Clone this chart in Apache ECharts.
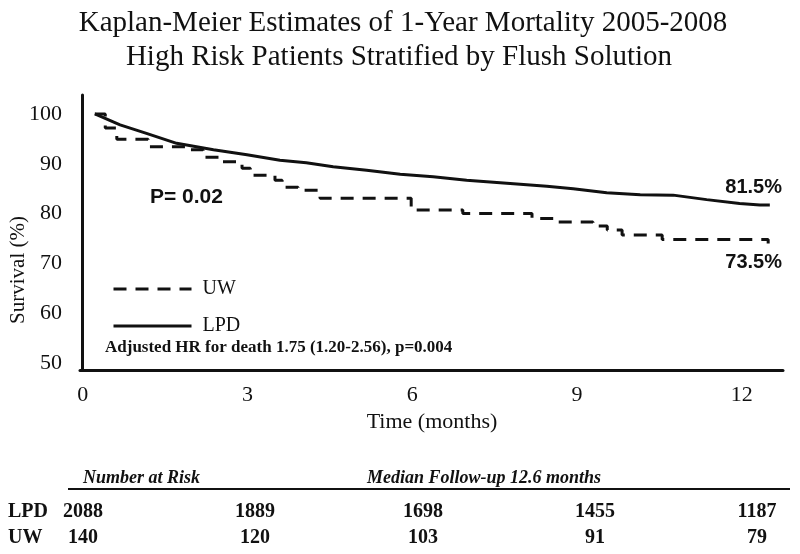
<!DOCTYPE html>
<html>
<head>
<meta charset="utf-8">
<script src="https://cdn.jsdelivr.net/npm/echarts@6/dist/echarts.min.js"></script>
<style>html,body{margin:0;padding:0;background:#fff}#c{width:800px;height:554px}</style>
</head>
<body>
<div id="c"></div>
<script>
// ---- data ----
var xTicks = [0, 3, 6, 9, 12];
var yTicks = [50, 60, 70, 80, 90, 100];
var lpdTime = [0.22, 0.68, 1.16, 1.71, 2.38, 2.99, 3.59, 4.07, 4.56, 5.17, 5.78, 6.38, 6.99, 7.60, 8.45, 8.93, 9.54, 10.15, 10.75, 11.36, 11.96, 12.33, 12.51];
var lpdSurv = [100, 97.8, 96.1, 94.1, 92.8, 91.8, 90.7, 90.2, 89.4, 88.7, 87.9, 87.4, 86.7, 86.2, 85.5, 85.0, 84.2, 83.8, 83.7, 82.8, 82.0, 81.7, 81.7];
var uwTime = [0.22, 0.41, 0.62, 1.19, 1.95, 2.19, 2.50, 2.90, 3.05, 3.50, 3.63, 3.92, 4.32, 5.98, 6.92, 8.18, 8.65, 9.29, 9.55, 9.82, 10.55, 12.48];
var uwSurv = [100, 97.2, 94.9, 93.4, 92.8, 91.3, 90.4, 89.1, 87.7, 86.7, 85.3, 84.7, 83.1, 80.7, 80.0, 79.0, 78.3, 77.5, 76.7, 75.7, 74.8, 74.0];
var riskRows = ['LPD', 'UW'];
var lpdRisk = [2088, 1889, 1698, 1455, 1187];
var uwRisk = [140, 120, 103, 91, 79];

function pairs(xs, ys) { return xs.map(function (x, i) { return [x, ys[i]]; }); }

var serif = '"Liberation Serif", "Times New Roman", serif';
var sans = '"Liberation Sans", Arial, sans-serif';
var colX = [83, 255, 423, 595, 757];

var graphics = [
  { type: 'text', x: 403, y: 23, style: { text: 'Kaplan-Meier Estimates of 1-Year Mortality 2005-2008', font: '29px ' + serif, fill: '#111', textAlign: 'center', textVerticalAlign: 'middle' } },
  { type: 'text', x: 399, y: 57, style: { text: 'High Risk Patients Stratified by Flush Solution', font: '29px ' + serif, fill: '#111', textAlign: 'center', textVerticalAlign: 'middle' } },
  { type: 'text', x: 18, y: 270, rotation: Math.PI / 2, style: { text: 'Survival (%)', font: '21px ' + serif, fill: '#111', textAlign: 'center', textVerticalAlign: 'middle' } },
  { type: 'text', x: 432, y: 422, style: { text: 'Time (months)', font: '22px ' + serif, fill: '#111', textAlign: 'center', textVerticalAlign: 'middle' } },
  { type: 'text', x: 150, y: 197, style: { text: 'P= 0.02', font: 'bold 21px ' + sans, fill: '#111', textAlign: 'left', textVerticalAlign: 'middle' } },
  { type: 'text', x: 782, y: 187, style: { text: '81.5%', font: 'bold 20px ' + sans, fill: '#111', textAlign: 'right', textVerticalAlign: 'middle' } },
  { type: 'text', x: 782, y: 262, style: { text: '73.5%', font: 'bold 20px ' + sans, fill: '#111', textAlign: 'right', textVerticalAlign: 'middle' } },
  { type: 'text', x: 105, y: 348, style: { text: 'Adjusted HR for death 1.75 (1.20-2.56), p=0.004', font: 'bold 17px ' + serif, fill: '#111', textAlign: 'left', textVerticalAlign: 'middle' } },
  { type: 'text', x: 83, y: 478, style: { text: 'Number at Risk', font: 'italic bold 18px ' + serif, fill: '#111', textAlign: 'left', textVerticalAlign: 'middle' } },
  { type: 'text', x: 367, y: 478, style: { text: 'Median Follow-up 12.6 months', font: 'italic bold 18px ' + serif, fill: '#111', textAlign: 'left', textVerticalAlign: 'middle' } },
  { type: 'line', shape: { x1: 68, y1: 489, x2: 790, y2: 489 }, style: { stroke: '#111', lineWidth: 2 } }
];
[lpdRisk, uwRisk].forEach(function (row, r) {
  var y = r === 0 ? 512 : 538;
  graphics.push({ type: 'text', x: 8, y: y, style: { text: riskRows[r], font: 'bold 20px ' + serif, fill: '#111', textAlign: 'left', textVerticalAlign: 'middle' } });
  row.forEach(function (v, i) {
    graphics.push({ type: 'text', x: colX[i], y: y, style: { text: String(v), font: 'bold 20px ' + serif, fill: '#111', textAlign: 'center', textVerticalAlign: 'middle' } });
  });
});

var chart = echarts.init(document.getElementById('c'), null, { renderer: 'canvas' });
chart.setOption({
  animation: false,
  backgroundColor: '#fff',
  grid: { left: 80, right: 17, top: 95, bottom: 184 },
  xAxis: {
    type: 'value', min: -0.05, max: 12.75,
    splitLine: { show: false },
    axisTick: { show: false },
    axisLine: { show: true, lineStyle: { color: '#111', width: 3 } },
    axisLabel: { customValues: xTicks, color: '#111', fontFamily: serif, fontSize: 22, margin: 14 }
  },
  yAxis: {
    type: 'value', min: 48.6, max: 103.8,
    splitLine: { show: false },
    axisTick: { show: false },
    axisLine: { show: true, lineStyle: { color: '#111', width: 3 } },
    axisLabel: { customValues: yTicks, color: '#111', fontFamily: serif, fontSize: 22, margin: 18 }
  },
  legend: {
    orient: 'vertical', left: 107, top: 274,
    data: ['UW', 'LPD'],
    itemWidth: 78, itemHeight: 14, itemGap: 17,
    itemStyle: { opacity: 0 },
    lineStyle: { width: 3 },
    textStyle: { color: '#111', fontFamily: serif, fontSize: 20, padding: [0, 0, 0, 6] }
  },
  series: [
    { name: 'LPD', type: 'line', symbol: 'none', data: pairs(lpdTime, lpdSurv),
      lineStyle: { color: '#111', width: 3 }, itemStyle: { color: '#111' } },
    { name: 'UW', type: 'line', symbol: 'none', step: 'end', data: pairs(uwTime, uwSurv),
      lineStyle: { color: '#111', width: 3, type: [13, 9] }, itemStyle: { color: '#111' } }
  ],
  graphic: graphics
});
</script>
</body>
</html>
